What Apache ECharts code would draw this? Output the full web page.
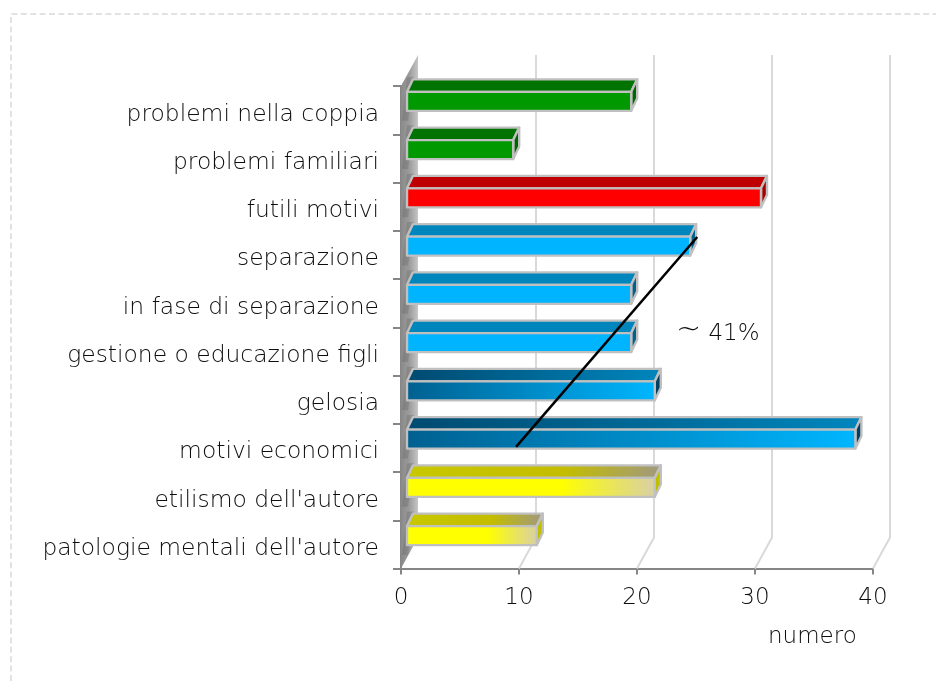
<!DOCTYPE html>
<html><head><meta charset="utf-8">
<style>html,body{margin:0;padding:0;background:#fff}#c{width:936px;height:681px}</style>
<script src="https://cdn.jsdelivr.net/npm/echarts@6/dist/echarts.min.js"></script>
</head><body><div id="c"></div>
<script>
const categories = ["problemi nella coppia","problemi familiari","futili motivi","separazione","in fase di separazione","gestione o educazione figli","gelosia","motivi economici","etilismo dell'autore","patologie mentali dell'autore"];
const values = [19,9,30,24,19,19,21,38,21,11];
const colorGroups = ["green","green","red","blue","blue","blue","deep","deep","yellow","yellow"];
const xTicks = [0,10,20,30,40];
const annotationX = [9.75,25.1];
const annotationY = [7.48,3.13];
const axisTitle = "numero";

const FONT = "'DejaVu Sans'";
const TXT = "#0d0d0d";
const EDGE = "#c0c0c0";
const WALL_DX = 17, WALL_DY = -31, BAR_DX = 6, BAR_SHIFT_Y = -8.8, BAR_H = 19, BAR_DY = -12.5;

function grad(stops){
  return {type:'linear',x:0,y:0,x2:1,y2:0,colorStops:stops.map(s=>({offset:s[0],color:s[1]}))};
}
const palette = {
  green:{front:'#009900',top:'#007300',side:'#006600'},
  red:{front:'#ff0000',top:'#bf0000',side:'#a80000'},
  blue:{front:'#00b4ff',top:'#0086bd',side:'#00628c'},
  deep:{front:grad([[0,'#006090'],[1,'#00b6ff']]),top:grad([[0,'#004a70'],[1,'#0086bd']]),side:'#004060'},
  yellow:{front:grad([[0,'#ffff00'],[0.62,'#ffff00'],[1,'#d8cfa6']]),top:grad([[0,'#c8c800'],[0.62,'#c4bd00'],[1,'#a09880']]),side:'#bfbf00'}
};

function poly(points,fill,stroke,w,z,op){
  return {type:'polygon',shape:{points},z2:z||0,style:{fill,stroke:stroke||null,lineWidth:w||0,lineJoin:'round',opacity:op==null?1:op}};
}

const chart = echarts.init(document.getElementById('c'),null,{renderer:'canvas'});
chart.setOption({
  animation:false,
  backgroundColor:'#fff',
  grid:{left:401,top:86,width:472,height:482.5,containLabel:false},
  xAxis:{type:'value',min:0,max:40,interval:10,
    axisLine:{show:true,onZero:false,lineStyle:{color:'#868686',width:2}},
    axisTick:{show:true,length:6,lineStyle:{color:'#868686',width:2}},
    splitLine:{show:false},
    axisLabel:{margin:18,fontFamily:FONT,fontWeight:200,fontSize:23,color:TXT}},
  yAxis:[
    {type:'category',data:categories,inverse:true,
     axisLine:{show:true,onZero:false,lineStyle:{color:'#868686',width:2}},
     axisTick:{show:true,length:8,alignWithLabel:false,lineStyle:{color:'#868686',width:2}},
     axisLabel:{margin:22,fontFamily:FONT,fontWeight:200,fontSize:23.4,color:TXT,verticalAlign:'top',lineHeight:9}},
    {type:'value',min:0,max:10,inverse:true,show:false}
  ],
  series:[
    {type:'custom',coordinateSystem:'cartesian2d',xAxisIndex:0,yAxisIndex:1,z:1,silent:true,
     data:xTicks.slice(1).map(t=>[t,10]),encode:{x:0,y:1},
     renderItem(params,api){
       const b=api.coord([api.value(0),10]);
       const t=api.coord([api.value(0),0]);
       return {type:'polyline',shape:{points:[[b[0],b[1]],[b[0]+WALL_DX,b[1]+WALL_DY],[b[0]+WALL_DX,t[1]+WALL_DY]]},
         style:{fill:null,stroke:'#d9d9d9',lineWidth:2}};
     }},
    {type:'custom',coordinateSystem:'cartesian2d',xAxisIndex:0,yAxisIndex:1,z:2,silent:true,
     data:[[0,10]],encode:{x:0,y:1},
     renderItem(params,api){
       const b=api.coord([0,10]), t=api.coord([0,0]);
       return poly([[b[0],b[1]],[b[0]+WALL_DX,b[1]+WALL_DY],[t[0]+WALL_DX,t[1]+WALL_DY],[t[0],t[1]]],
         {type:'linear',x:0,y:0,x2:1,y2:0,colorStops:[{offset:0,color:'#8a8a8a'},{offset:0.5,color:'#9c9c9c'},{offset:1,color:'#c6c6c6'}]});
     }},
    {type:'custom',coordinateSystem:'cartesian2d',xAxisIndex:0,yAxisIndex:0,z:3,silent:true,
     data:values.map((v,i)=>[v,i]),encode:{x:0,y:1},
     renderItem(params,api){
       const v=api.value(0), c=api.value(1);
       const p0=api.coord([0,c]), p1=api.coord([v,c]);
       const style=palette[colorGroups[c]];
       const x0=p0[0]+BAR_DX, x1=p1[0]+BAR_DX;
       const y0=p0[1]+BAR_SHIFT_Y-BAR_H/2, y1=y0+BAR_H;
       const dx=BAR_DX, dy=BAR_DY;
       return {type:'group',children:[
         poly([[x0,y0+dy-2],[x0+7,y0+dy-2],[x0+1,y1+10],[x0-5,y1+10]],'#5f5f5f',null,0,0,0.3),
         poly([[x0,y0],[x0+dx,y0+dy],[x1+dx,y0+dy],[x1,y0]],style.top,EDGE,2.4,1),
         poly([[x1,y0],[x1+dx,y0+dy],[x1+dx,y1+dy],[x1,y1]],style.side,EDGE,2.4,1),
         poly([[x0,y0],[x1,y0],[x1,y1],[x0,y1]],style.front,EDGE,2.4,2)
       ]};
     }},
    {type:'line',xAxisIndex:0,yAxisIndex:1,z:5,silent:true,showSymbol:false,symbol:'none',
     data:annotationX.map((x,i)=>[x,annotationY[i]]),lineStyle:{color:'#000',width:2.5}}
  ],
  graphic:[
    {type:'polyline',silent:true,z:0,shape:{points:[[11,681],[11,14],[936,14]]},
     style:{fill:null,stroke:'#d9d9d9',lineWidth:1.5,lineDash:[6,3.4]}},
    {type:'text',silent:true,z:6,left:676,top:315,style:{text:'{t|~} {p|41%}',rich:{t:{fontFamily:FONT,fontSize:30,fontWeight:200,fill:TXT},p:{fontFamily:FONT,fontSize:23,fontWeight:200,fill:TXT,padding:[8,0,0,4]}}}},
    {type:'text',silent:true,z:6,left:768,top:626,style:{text:axisTitle,fontFamily:FONT,fontWeight:200,fontSize:23,fill:TXT}}
  ]
});
</script></body></html>
